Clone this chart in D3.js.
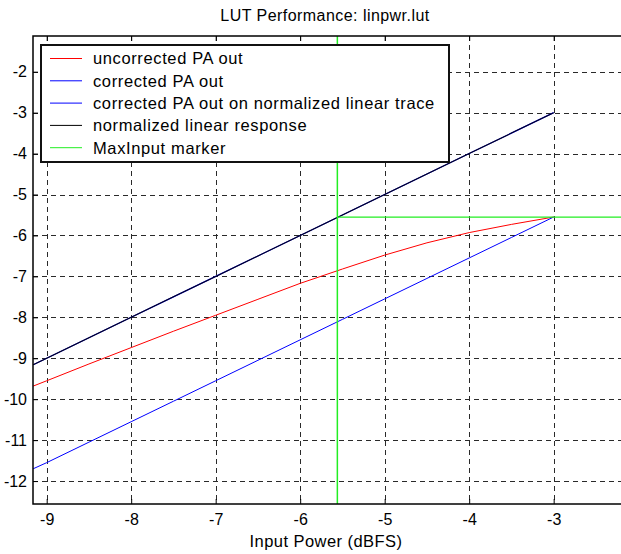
<!DOCTYPE html>
<html>
<head>
<meta charset="utf-8">
<script src="https://cdn.jsdelivr.net/npm/d3@7"></script>
<style>
  html, body { margin: 0; padding: 0; background: #fff; }
  svg { display: block; font-family: "Liberation Sans", Arial, sans-serif; }
</style>
</head>
<body>
<svg id="chart" width="621" height="554"></svg>
<script>
// ---- data ----
const inputPower      = [-9.16, -9, -8.5, -8, -7.5, -7, -6.5, -6, -5.5, -5, -4.5, -4, -3.5, -3];
const uncorrectedOut  = [-9.68, -9.55, -9.14, -8.74, -8.34, -7.95, -7.56, -7.17, -6.82, -6.48, -6.18, -5.93, -5.73, -5.55];
const correctedOut    = [-11.70, -11.55, -11.05, -10.55, -10.05, -9.55, -9.05, -8.55, -8.05, -7.55, -7.05, -6.55, -6.05, -5.55];
const correctedOnLin  = [-9.16, -9, -8.5, -8, -7.5, -7, -6.5, -6, -5.5, -5, -4.5, -4, -3.5, -3];
const linearResponse  = [-9.16, -9, -8.5, -8, -7.5, -7, -6.5, -6, -5.5, -5, -4.5, -4, -3.5, -3];
const maxInput = -5.56;
const maxOutput = -5.55;
const xTicks = [-9, -8, -7, -6, -5, -4, -3];
const yTicks = [-12, -11, -10, -9, -8, -7, -6, -5, -4, -3, -2];
const legendLabels = ["uncorrected PA out", "corrected PA out", "corrected PA out on normalized linear trace", "normalized linear response", "MaxInput marker"];
const legendColors = ["#ff0000", "#0000ff", "#0000ff", "#000000", "#22ee22"];
const titleText = "LUT Performance: linpwr.lut";
const xLabelText = "Input Power (dBFS)";

// ---- layout ----
const svg = d3.select("#chart");
const pLeft = 33, pTop = 36, pBottom = 504, pRight = 626;
const x = d3.scaleLinear().domain([-9.162, -2.144]).range([pLeft, pRight]);
const y = d3.scaleLinear().domain([-12.56, -1.128]).range([pBottom, pTop]);
const fmt = d => String(d);   // plain hyphen-minus like the reference

svg.append("rect").attr("width", 621).attr("height", 554).attr("fill", "#fff");

svg.append("clipPath").attr("id", "plotclip")
  .append("rect").attr("x", pLeft).attr("y", pTop).attr("width", pRight - pLeft).attr("height", pBottom - pTop);

// grid
const grid = svg.append("g").attr("stroke", "#2a2a2a").attr("stroke-width", 1).attr("stroke-dasharray", "5,4");
grid.selectAll("line.gx").data(xTicks).join("line").attr("class", "gx")
  .attr("x1", d => Math.round(x(d)) + 0.5).attr("x2", d => Math.round(x(d)) + 0.5)
  .attr("y1", pTop).attr("y2", pBottom);
grid.selectAll("line.gy").data(yTicks).join("line").attr("class", "gy")
  .attr("y1", d => Math.round(y(d)) + 0.5).attr("y2", d => Math.round(y(d)) + 0.5)
  .attr("x1", pLeft).attr("x2", pRight);

// axes via d3
const xAxisB = d3.axisBottom(x).tickValues(xTicks).tickSize(-5).tickPadding(10).tickFormat(fmt);
const xAxisT = d3.axisTop(x).tickValues(xTicks).tickSize(-5).tickFormat("");
const yAxisL = d3.axisLeft(y).tickValues(yTicks).tickSize(-5).tickPadding(6).tickFormat(fmt);

function styleAxis(g) {
  g.select(".domain").remove();
  g.selectAll(".tick line").attr("stroke", "#000").attr("stroke-width", 1);
  g.selectAll(".tick text").attr("fill", "#000").attr("font-size", 16)
    .attr("font-family", "Liberation Sans, Arial, sans-serif");
}
svg.append("g").attr("transform", `translate(0,${pBottom})`).call(xAxisB).call(styleAxis);
svg.append("g").attr("transform", `translate(0,${pTop})`).call(xAxisT).call(styleAxis);
svg.append("g").attr("transform", `translate(${pLeft},0)`).call(yAxisL).call(styleAxis);

// lines
const plot = svg.append("g").attr("clip-path", "url(#plotclip)");
const line = vals => d3.line().x((d, i) => x(inputPower[i])).y((d, i) => y(vals[i]))(vals);

plot.append("path").attr("d", line(uncorrectedOut)).attr("fill", "none").attr("stroke", "#ff0000").attr("stroke-width", 1);
plot.append("path").attr("d", line(correctedOut)).attr("fill", "none").attr("stroke", "#0000ff").attr("stroke-width", 1);
plot.append("path").attr("d", line(correctedOnLin)).attr("fill", "none").attr("stroke", "#0000ff").attr("stroke-width", 1.2);
plot.append("path").attr("d", line(linearResponse)).attr("fill", "none").attr("stroke", "#000000").attr("stroke-width", 1.1).attr("opacity", 0.9);

// max input markers
plot.append("line").attr("x1", x(maxInput)).attr("x2", x(maxInput)).attr("y1", pTop).attr("y2", pBottom)
  .attr("stroke", "#22ee22").attr("stroke-width", 1.5);
plot.append("line").attr("x1", x(maxInput)).attr("x2", pRight).attr("y1", y(maxOutput)).attr("y2", y(maxOutput))
  .attr("stroke", "#22ee22").attr("stroke-width", 1.2);

// frame
svg.append("rect").attr("x", pLeft).attr("y", pTop).attr("width", pRight - pLeft).attr("height", pBottom - pTop)
  .attr("fill", "none").attr("stroke", "#000").attr("stroke-width", 1.5);

// legend
const lg = svg.append("g");
const lgX = 41, lgY = 45, lgW = 408, lgH = 117, rowH = 22.3;
lg.append("rect").attr("x", lgX).attr("y", lgY).attr("width", lgW).attr("height", lgH)
  .attr("fill", "#fff").attr("stroke", "#111").attr("stroke-width", 2);
const rows = lg.selectAll("g.row").data(legendLabels).join("g").attr("class", "row")
  .attr("transform", (d, i) => `translate(0,${lgY + 13.5 + i * rowH})`);
rows.append("line").attr("x1", 50).attr("x2", 82).attr("y1", 0).attr("y2", 0)
  .attr("stroke", (d, i) => legendColors[i]).attr("stroke-width", 1);
rows.append("text").attr("x", 93).attr("y", 0).attr("dy", "0.36em")
  .attr("font-size", 16.5).attr("letter-spacing", 0.62).attr("fill", "#000").text(d => d);

// title and label
svg.append("text").attr("x", 325).attr("y", 21).attr("text-anchor", "middle")
  .attr("font-size", 16).attr("letter-spacing", 0.45).attr("fill", "#000").text(titleText);
svg.append("text").attr("x", 326).attr("y", 547).attr("text-anchor", "middle")
  .attr("font-size", 16.5).attr("letter-spacing", 0.45).attr("fill", "#000").text(xLabelText);
</script>
</body>
</html>
